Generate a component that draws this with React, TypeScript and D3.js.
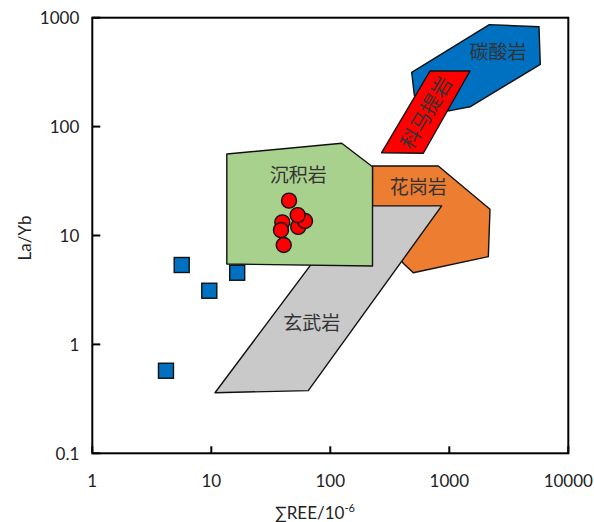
import React from "react";
import * as d3 from "d3";

// Discrimination fields on the ΣREE – La/Yb plane (ΣREE in 10^-6)
type Pt = [number, number];

const carbonatiteField: Pt[] = [
  [483, 315], [2169, 863], [5674, 826], [5818, 373],
  [1493, 152], [1014, 140], [625, 142], [508, 195],
];
const kimberliteField: Pt[] = [
  [688, 324], [1493, 324], [605, 56.9], [270, 57.6],
];
const graniteField: Pt[] = [
  [226, 43.5], [808, 43.5], [2198, 17.4], [2128, 6.39],
  [498, 4.55], [410, 5.56], [226, 13.9],
];
const basaltField: Pt[] = [
  [161, 18.7], [863, 18.7], [65.3, 0.376], [10.74, 0.36],
];
const sedimentField: Pt[] = [
  [13.5, 56.0], [124.7, 70.3], [226.3, 42.8], [226.3, 5.25], [13.5, 5.47],
];

// Samples
const circleREE = [53.8, 61.3, 53.2, 39.5, 38.5, 40.6, 45.0];
const circleLaYb = [12.0, 13.6, 15.4, 13.2, 11.2, 8.18, 20.9];
const squareREE = [5.64, 16.5, 9.62, 4.16];
const squareLaYb = [5.36, 4.55, 3.11, 0.573];

const xTicks = [1, 10, 100, 1000, 10000];
const xTickLabels = ["1", "10", "100", "1000", "10000"];
const yTicks = [0.1, 1, 10, 100, 1000];
const yTickLabels = ["0.1", "1", "10", "100", "1000"];

const fieldLabels = [
  { text: "碳酸岩", x: 2566, y: 505, rot: 0 },
  { text: "科马提岩", x: 625, y: 136, rot: -59 },
  { text: "沉积岩", x: 53.8, y: 37.3, rot: 0 },
  { text: "花岗岩", x: 549, y: 28.5, rot: 0 },
  { text: "玄武岩", x: 69.8, y: 1.62, rot: 0 },
];

const W = 594;
const H = 522;
const left = 92.3;
const right = 568.3;
const top = 17.7;
const bottom = 453.3;

const numFont = "Lato, 'Open Sans', sans-serif";
const cjkFont = "'Noto Sans CJK SC', sans-serif";

export default function App() {
  const x = d3.scaleLog().domain([1, 10000]).range([left, right]);
  const y = d3.scaleLog().domain([0.1, 1000]).range([bottom, top]);
  const line = d3
    .line<Pt>()
    .x((d) => x(d[0]))
    .y((d) => y(d[1]))
    .curve(d3.curveLinearClosed);

  const poly = (pts: Pt[], fill: string) => (
    <path d={line(pts) || ""} fill={fill} stroke="#111" strokeWidth={1.4} strokeLinejoin="round" />
  );

  const sq = 15;

  return (
    <svg
      width={W}
      height={H}
      style={{ position: "absolute", left: 0, top: 0, background: "#fff" }}
    >
      <rect x={0} y={0} width={W} height={H} fill="#fff" />

      {poly(carbonatiteField, "#0070C0")}
      {poly(kimberliteField, "#FF0000")}
      {poly(graniteField, "#ED7D31")}
      {poly(basaltField, "#C9C9C9")}
      {poly(sedimentField, "#A9D18E")}

      {fieldLabels.map((l) => (
        <text
          key={l.text}
          x={x(l.x)}
          y={y(l.y)}
          transform={l.rot ? `rotate(${l.rot} ${x(l.x)} ${y(l.y)})` : undefined}
          textAnchor="middle"
          dominantBaseline="central"
          fontFamily={cjkFont}
          fontSize={l.rot ? 20 : 19}
          fill="#333"
        >
          {l.text}
        </text>
      ))}

      {squareREE.map((v, i) => (
        <rect
          key={`s${i}`}
          x={x(v) - sq / 2}
          y={y(squareLaYb[i]) - sq / 2}
          width={sq}
          height={sq}
          fill="#0070C0"
          stroke="#111"
          strokeWidth={1.4}
        />
      ))}

      {circleREE.map((v, i) => (
        <circle
          key={`c${i}`}
          cx={x(v)}
          cy={y(circleLaYb[i])}
          r={7.5}
          fill="#FF0000"
          stroke="#111"
          strokeWidth={1.4}
        />
      ))}

      {/* frame */}
      <rect
        x={left}
        y={top}
        width={right - left}
        height={bottom - top}
        fill="none"
        stroke="#000"
        strokeWidth={2}
      />

      {/* inward ticks */}
      {xTicks.map((t, i) => (
        <g key={`xt${i}`}>
          <line x1={x(t)} x2={x(t)} y1={bottom} y2={bottom - 7} stroke="#000" strokeWidth={2} />
          <text
            x={x(t)}
            y={bottom + 27}
            textAnchor="middle"
            dominantBaseline="central"
            fontFamily={numFont}
            fontSize={17}
            fill="#222"
          >
            {xTickLabels[i]}
          </text>
        </g>
      ))}
      {yTicks.map((t, i) => (
        <g key={`yt${i}`}>
          <line x1={left} x2={left + 8} y1={y(t)} y2={y(t)} stroke="#000" strokeWidth={2} />
          <text
            x={left - 13}
            y={y(t)}
            textAnchor="end"
            dominantBaseline="central"
            fontFamily={numFont}
            fontSize={17}
            fill="#222"
          >
            {yTickLabels[i]}
          </text>
        </g>
      ))}

      {/* axis titles */}
      <text
        x={315}
        y={512}
        textAnchor="middle"
        dominantBaseline="central"
        fontFamily={numFont}
        fontSize={17}
        fill="#222"
      >
        ∑REE/10<tspan dy={-5} fontSize={11}>-6</tspan>
      </text>
      <text
        transform={`translate(24, 238) rotate(-90)`}
        textAnchor="middle"
        dominantBaseline="central"
        fontFamily={numFont}
        fontSize={17}
        fill="#222"
      >
        La/Yb
      </text>
    </svg>
  );
}
